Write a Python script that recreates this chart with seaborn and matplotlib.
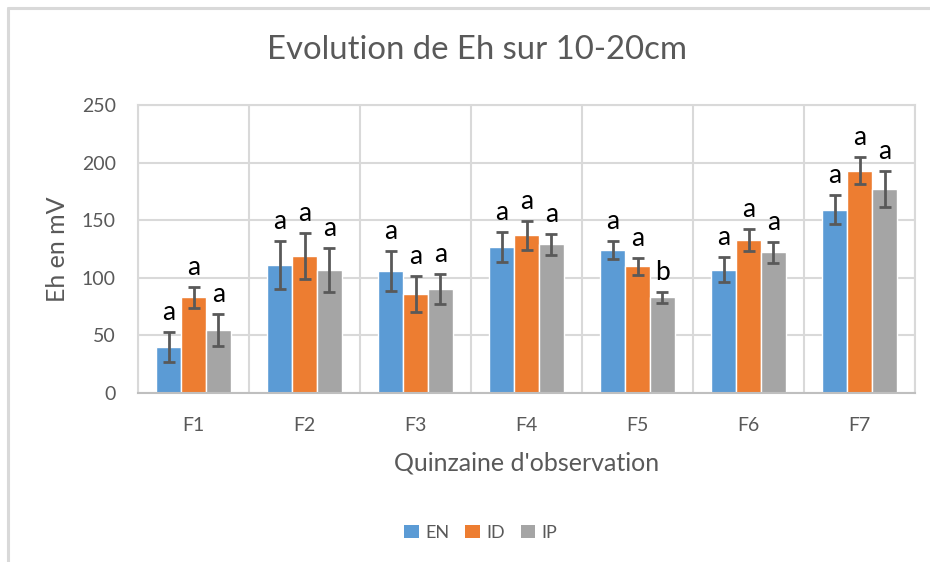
import numpy as np
import pandas as pd
import matplotlib.pyplot as plt
import seaborn as sns
from matplotlib.lines import Line2D
from matplotlib.patches import Patch

#########   Data ################################
quinzaines = ['F1', 'F2', 'F3', 'F4', 'F5', 'F6', 'F7']
traitements = ['EN', 'ID', 'IP']

eh_EN = [40, 111, 106, 127, 124, 107, 159]
eh_ID = [83, 119, 86, 137, 110, 133, 193]
eh_IP = [55, 107, 90, 129, 83, 122, 177]

err_EN = [13, 21, 17.5, 13, 8, 11, 12.5]
err_ID = [9, 20, 15.5, 12.5, 7.5, 9.5, 11.5]
err_IP = [14, 19, 13, 9, 4.5, 9, 15.5]

lettres_EN = ['a', 'a', 'a', 'a', 'a', 'a', 'a']
lettres_ID = ['a', 'a', 'a', 'a', 'a', 'a', 'a']
lettres_IP = ['a', 'a', 'a', 'a', 'b', 'a', 'a']

couleurs = ['#5B9BD5', '#ED7D31', '#A5A5A5']

# long format for seaborn
df = pd.DataFrame({
    'Quinzaine': quinzaines * 3,
    'Traitement': [t for t in traitements for _ in quinzaines],
    'Eh': eh_EN + eh_ID + eh_IP,
})
erreurs = [err_EN, err_ID, err_IP]
lettres = [lettres_EN, lettres_ID, lettres_IP]

#########   Plot ############
sns.set_style('white')
plt.rcParams['font.family'] = ['Lato', 'DejaVu Sans']
gris = '#595959'
grille = '#D9D9D9'

fig = plt.figure(figsize=(9.3, 5.62), dpi=100)
ax = fig.add_axes([0.1484, 0.3007, 0.8355, 0.5125])

sns.barplot(data=df, x='Quinzaine', y='Eh', hue='Traitement', palette=couleurs,
            width=0.675, gap=0, errorbar=None, saturation=1, legend=False, ax=ax)

# error bars + letters on top of each bar
for cont, err, let in zip(ax.containers, erreurs, lettres):
    xs = [p.get_x() + p.get_width() / 2 for p in cont.patches]
    hs = [p.get_height() for p in cont.patches]
    ax.errorbar(xs, hs, yerr=err, fmt='none', ecolor=gris, elinewidth=2,
                capsize=4.5, capthick=2, zorder=3)
    for x, h, e, l in zip(xs, hs, err, let):
        ax.annotate(l, (x, h + e), xytext=(0, 5), textcoords='offset points',
                    ha='center', va='bottom', fontsize=19, color='black')

ax.set_ylim(0, 250)
ax.set_yticks(np.arange(0, 251, 50))
ax.set_xlim(-0.5, len(quinzaines) - 0.5)
ax.set_xticks(np.arange(-0.5, len(quinzaines), 1), minor=True)
ax.grid(axis='y', which='major', color=grille, lw=1.5)
ax.grid(axis='x', which='minor', color=grille, lw=1.5)
ax.set_axisbelow(True)
for s in ax.spines.values():
    s.set_color(grille)
    s.set_linewidth(1.5)
ax.spines['bottom'].set_color('#BFBFBF')
ax.tick_params(axis='both', which='both', length=0, labelsize=14, colors=gris)
ax.tick_params(axis='x', pad=17)
ax.tick_params(axis='y', pad=16)

ax.set_xlabel("Quinzaine d'observation", fontsize=18, color=gris, va='center')
ax.set_ylabel('Eh en mV', fontsize=18, color=gris, va='center')
ax.xaxis.set_label_coords(0.5, -0.243)
ax.yaxis.set_label_coords(-0.104, 0.5)
fig.text(0.513, 0.911, 'Evolution de Eh sur 10-20cm', ha='center', va='center',
         fontsize=23.7, color=gris)

handles = [Patch(facecolor=c, edgecolor='none') for c in couleurs]
fig.legend(handles, traitements, loc='center', bbox_to_anchor=(0.517, 0.052), ncol=3,
           frameon=False, handlelength=0.8, handleheight=0.8, handletextpad=0.35,
           columnspacing=0.9, fontsize=13, labelcolor=gris)

# light frame on top and left like the original export
fig.add_artist(Line2D([8 / 930, 1], [1 - 8 / 562] * 2, color=grille, lw=2.2))
fig.add_artist(Line2D([8 / 930] * 2, [0, 1 - 8 / 562], color=grille, lw=2.2))

plt.savefig('out.png', dpi=100)
